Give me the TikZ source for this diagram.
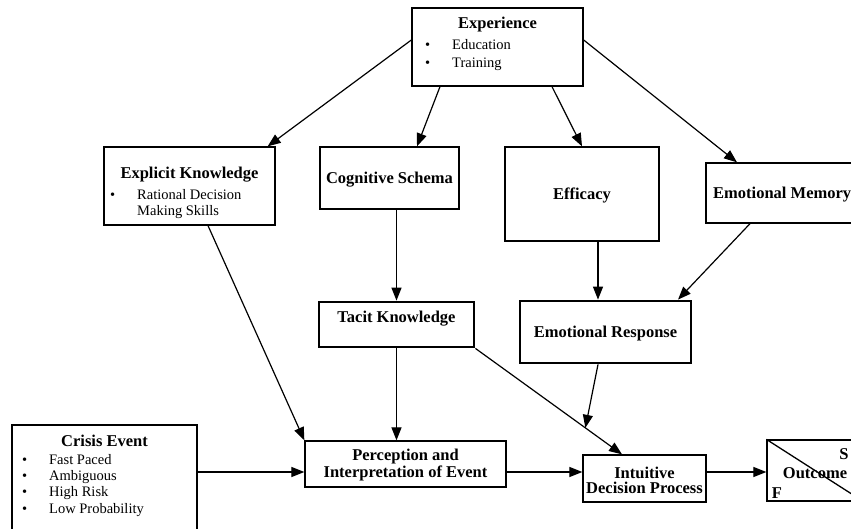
\documentclass[tikz,border=0pt]{standalone}
\usepackage{fontspec}
\setmainfont{Liberation Serif}
\usetikzlibrary{arrows.meta}

\tikzset{
  box/.style={draw, line width=1.3pt, inner sep=0pt},
  bigbox/.style={draw, line width=2.8pt, inner sep=0pt},
  head/.style={font=\fontsize{16.5}{15}\selectfont\bfseries, inner sep=0pt, align=center, yshift=-2pt},
  item/.style={font=\fontsize{14.5}{16}\selectfont, inner sep=0pt, anchor=west, yshift=-1pt},
  link/.style={-{Triangle[length=13pt,width=10pt]}, line width=1.2pt},
}
\newcommand{\bul}[1]{\makebox[27pt][l]{\textbullet}#1}

\begin{document}
\begin{tikzpicture}[x=1pt,y=-1pt]
    \useasboundingbox (0,0) rectangle (851,529);
    \clip (0,0) rectangle (851,529);

    % Boxes
    \node[box, minimum width=171, minimum height=78] (exp) at (497.5,47) {};
    \node[box, minimum width=171, minimum height=78] (explicit) at (189.5,186) {};
    \node[box, minimum width=139, minimum height=62] (cog) at (389.5,178) {};
    \node[box, minimum width=154, minimum height=94] (eff) at (582,194) {};
    \node[box, minimum width=154, minimum height=60] (emomem) at (783,193) {};
    \node[bigbox, minimum width=155, minimum height=45] (tacit) at (396.5,324.5) {};
    \node[bigbox, minimum width=171, minimum height=62] (emoresp) at (605.5,332) {};
    \node[box, minimum width=185, minimum height=120] (crisis) at (104.5,485) {};
    \node[box, minimum width=201, minimum height=46] (perc) at (405.5,464) {};
    \node[box, minimum width=123, minimum height=47] (intuit) at (644.5,478.5) {};
    \node[box, minimum width=96, minimum height=61] (outcome) at (815,470.5) {};
    \coordinate (flow) at (0,472);

    % Texts
    \node[head] (exphead) at (497.5,23) {Experience};
    \node[item] (expedu) at (425,44) {\bul{Education}};
    \node[item] (exptrain) at (425,63) {\bul{Training}};

    \node[head] (explhead) at (189.5,173) {Explicit Knowledge};
    \node[item] (explrat) at (110,194) {\bul{Rational Decision}};
    \node[item] (explmak) at (137,211) {Making Skills};

    \node[head] (coghead) at (389.5,178) {Cognitive Schema};
    \node[head] (effhead) at (582,193) {Efficacy};
    \node[head, anchor=west] (emomemhead) at (713,193) {Emotional Memory};
    \node[head] (tacithead) at (396.5,317) {Tacit Knowledge};
    \node[head] (emoresphead) at (605.5,332) {Emotional Response};

    \node[head] (crisishead) at (104.5,439) {Crisis Event};
    \node[item] (crisisfast) at (22,459) {\bul{Fast Paced}};
    \node[item] (crisisamb) at (22,476) {\bul{Ambiguous}};
    \node[item] (crisisrisk) at (22,492) {\bul{High Risk}};
    \node[item] (crisislow) at (22,509) {\bul{Low Probability}};

    \node[head] (perchead) at (405.5,463) {Perception and\\Interpretation of Event};
    \node[head] (intuithead) at (644.5,478) {Intuitive\\Decision Process};

    \draw[line width=1.3pt] (outcome.north west) -- (outcome.south east);
    \node[head] (outcomehead) at (815,471) {Outcome};
    \node[head] (outcomef) at (777,491) {F};
    \node[head] (outcomes) at (844,452) {S};

    % Arrows from Experience
    \draw[link] ([yshift=7pt]exp.west) -- ([xshift=-8pt]explicit.north east);
    \draw[link] ([xshift=-57.5pt]exp.south) -- ([xshift=27.5pt]cog.north);
    \draw[link] ([xshift=54.5pt]exp.south) -- (eff.north);
    \draw[link] ([yshift=7pt]exp.east) -- ([xshift=-46pt]emomem.north);

    % Middle row
    \draw[link] ([xshift=18.5pt]explicit.south) -- (perc.north west);
    \draw[link] (tacit.north |- cog.south) -- (tacit.north);
    \draw[link] ([xshift=16pt]eff.south) -- ([xshift=16pt]eff.south |- emoresp.north);
    \draw[link] ([xshift=-33pt]emomem.south) -- ([xshift=72.5pt]emoresp.north);

    % Into the decision
    \draw[link] (tacit.south) -- (tacit.south |- perc.north);
    \draw[link] (tacit.south east) -- coordinate[pos=0.75] (mod) ([xshift=-22.5pt]intuit.north);
    \draw[link] ([xshift=-7.5pt]emoresp.south) -- (mod);

    % Bottom row
    \draw[link] (crisis.east |- flow) -- (perc.west |- flow);
    \draw[link] (perc.east |- flow) -- (intuit.west |- flow);
    \draw[link] (intuit.east |- flow) -- (outcome.west |- flow);
\end{tikzpicture}
\end{document}
